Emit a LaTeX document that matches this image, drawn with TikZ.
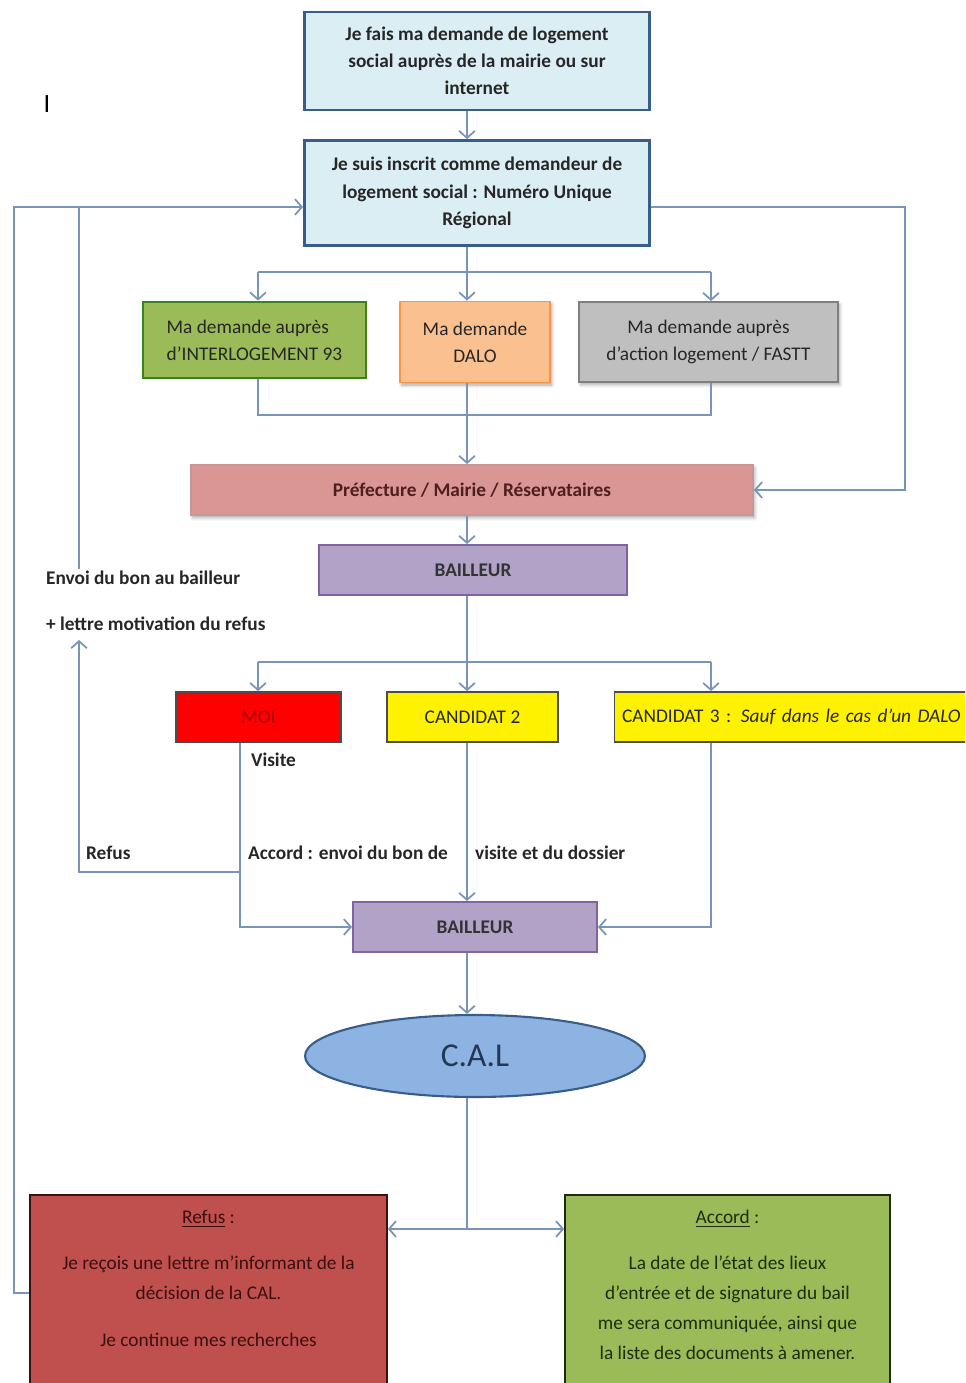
\documentclass[tikz,border=0pt]{standalone}
\usepackage{fontspec}
\setmainfont{Carlito}
\usepackage{tikz}
\usetikzlibrary{calc,positioning,shapes.geometric,arrows.meta,shadows.blur}
\definecolor{boxblue}{RGB}{219,238,244}
\definecolor{navyline}{RGB}{56,93,138}
\definecolor{linkblue}{RGB}{120,148,185}
\definecolor{textdark}{RGB}{38,38,38}
\definecolor{olivefill}{RGB}{155,187,89}
\definecolor{greenline}{RGB}{58,130,30}
\definecolor{orangefill}{RGB}{250,192,144}
\definecolor{orangeline}{RGB}{247,150,70}
\definecolor{grayfill}{RGB}{191,191,191}
\definecolor{grayline}{RGB}{127,127,127}
\definecolor{pinkfill}{RGB}{217,150,148}
\definecolor{pinkline}{RGB}{200,150,150}
\definecolor{pinktext}{RGB}{80,30,30}
\definecolor{purplefill}{RGB}{179,162,199}
\definecolor{purpleline}{RGB}{128,100,162}
\definecolor{moired}{RGB}{255,0,0}
\definecolor{moitext}{RGB}{170,0,0}
\definecolor{calfill}{RGB}{141,179,226}
\definecolor{refusfill}{RGB}{192,80,77}
\definecolor{refustext}{RGB}{60,15,15}
\definecolor{accordtext}{RGB}{30,45,15}
\tikzset{
    flow box/.style={
        draw,align=center,
        font=\fontsize{11}{15.5}\selectfont,text=textdark
    },
    request box/.style={
        flow box,fill=boxblue,draw=navyline,line width=1.6pt,
        minimum width=6.9cm,minimum height=1.96cm,
        font=\fontsize{11}{15.5}\selectfont\bfseries
    },
    channel box/.style={
        flow box,line width=1.1pt,minimum height=1.6cm,
        blur shadow={shadow xshift=1pt,shadow yshift=-1.5pt,shadow blur steps=4,shadow opacity=35}
    },
    office box/.style={
        flow box,line width=1.1pt,minimum height=1cm,
        font=\fontsize{11}{15.5}\selectfont\bfseries,
        blur shadow={shadow xshift=1pt,shadow yshift=-1.5pt,shadow blur steps=4,shadow opacity=35}
    },
    candidate box/.style={
        flow box,line width=1pt,minimum height=1cm,draw=black!70
    },
    verdict box/.style={
        draw,line width=1pt,minimum height=4cm
    },
    verdict text/.style={
        align=center,font=\fontsize{11}{17}\selectfont
    },
    side label/.style={
        anchor=west,inner sep=1pt,text=textdark,
        font=\fontsize{11}{13}\selectfont\bfseries
    },
    link/.style={draw=linkblue,line width=1pt},
    >={Straight Barb[length=4pt,width=9pt]}
}
\begin{document}
\begin{tikzpicture}[x=0.02cm,y=-0.02cm]
\clip (0,0) rectangle (965,1383);
\coordinate (spine) at (467,0);
\coordinate (fork_l) at (258,272);
\coordinate (fork_r) at (711,272);
\coordinate (join_y) at (0,415);
\coordinate (loop_r) at (905,207);
\coordinate (loop_l) at (14,207);
\coordinate (back) at (79,207);
\coordinate (pick_l) at (258,662);
\coordinate (pick_r) at (711,662);
\coordinate (moi_x) at (240,0);
\coordinate (refus_y) at (0,872);
\coordinate (verdict) at (467,1229);

\node[text=black,font=\fontsize{15}{15}\selectfont] (cursor) at (47,104) {I};

% demande et inscription
\node[request box] (demande) at (477,61) {Je fais ma demande de logement\\social auprès de la mairie ou sur\\internet};
\node[request box,minimum height=2.1cm] (inscrit) at (477,193) {Je suis inscrit comme demandeur de\\logement social : Numéro Unique\\Régional};

% les trois demandes
\node[channel box,fill=olivefill,draw=greenline,line width=1.6pt,minimum width=4.46cm,minimum height=1.52cm,align=left,blur shadow={shadow opacity=0}] (interlog) at (254.5,340) {Ma demande auprès\\d’INTERLOGEMENT 93};
\node[channel box,fill=orangefill,draw=orangeline,minimum width=3cm,minimum height=1.62cm] (dalo) at (475,342) {Ma demande\\DALO};
\node[channel box,fill=grayfill,draw=grayline,minimum width=5.18cm] (fastt) at (708.5,342) {Ma demande auprès\\d’action logement / FASTT};

\node[office box,fill=pinkfill,draw=pinkline,text=pinktext,minimum width=11.24cm] (pref) at (472,490) {Préfecture / Mairie / Réservataires};
\node[office box,fill=purplefill,draw=purpleline,text=black!80,minimum width=6.16cm,blur shadow={shadow opacity=0}] (bailleur_a) at (473,570) {BAILLEUR};

% candidats
\node[candidate box,fill=moired,text=moitext,minimum width=3.3cm] (moi) at (258.5,717) {MOI};
\node[candidate box,fill=yellow,minimum width=3.42cm] (cand_2) at (472.5,717) {CANDIDAT 2};
\node[candidate box,fill=yellow,minimum width=7.1cm,text width=6.8cm,align=left] (cand_3) at (792,717) {CANDIDAT 3 : \textit{Sauf dans le cas d’un DALO}};

\node[office box,fill=purplefill,draw=purpleline,text=black!80,minimum width=4.88cm,blur shadow={shadow opacity=0}] (bailleur_b) at (475,927) {BAILLEUR};
\node[ellipse,draw=navyline,line width=1.2pt,fill=calfill,minimum width=6.8cm,minimum height=1.64cm,text=navyline!60!black,font=\fontsize{19}{19}\selectfont] (cal) at (475,1056) {C.A.L};

% decisions
\node[verdict box,fill=refusfill,draw=refustext,minimum width=7.14cm] (refus) at (208.5,1295) {};
\node[verdict text,text=refustext,below=0.2cm of refus.north] (refus_txt) {\underline{Refus} :\\[9pt]Je reçois une lettre m’informant de la\\décision de la CAL.\\[10pt]Je continue mes recherches};
\node[verdict box,fill=olivefill,draw=accordtext,minimum width=6.5cm] (accord) at (727.5,1295) {};
\node[verdict text,text=accordtext,below=0.2cm of accord.north] (accord_txt) {\underline{Accord} :\\[9pt]La date de l’état des lieux\\d’entrée et de signature du bail\\me sera communiquée, ainsi que\\la liste des documents à amener.};

% textes libres
\node[side label] (envoi) at (44,578) {Envoi du bon au bailleur};
\node[side label] (motiv) at (44,624) {+ lettre motivation du refus};
\node[side label] (visite) at (249,760) {Visite};
\node[side label] (refus_lbl) at (84,853) {Refus};
\node[side label] (accord_lbl) at (246,853) {Accord : envoi du bon de};
\node[side label] (visite_lbl) at (473,853) {visite et du dossier};

% liaisons
\draw[link,->] (demande.south -| spine) -- (inscrit.north -| spine);
\draw[link,->] (inscrit.south -| spine) -- (dalo.north -| spine);
\draw[link] (fork_l) -- (fork_r);
\draw[link,->] (fork_l) -- (interlog.north -| fork_l);
\draw[link,->] (fork_r) -- (fastt.north -| fork_r);
\draw[link] (interlog.south -| fork_l) -- (fork_l |- join_y) -- (fork_r |- join_y) -- (fastt.south -| fork_r);
\draw[link,->] (dalo.south -| spine) -- (pref.north -| spine);
\draw[link,->] (inscrit.east |- loop_r) -- (loop_r) |- (pref.east);
\draw[link,->] (refus.west |- 0,1293) -| (loop_l) -- (inscrit.west |- loop_l);
\draw[link] (envoi.north -| back) -- (back);
\draw[link,->] (pref.south -| spine) -- (bailleur_a.north -| spine);
\draw[link,->] (bailleur_a.south -| spine) -- (cand_2.north -| spine);
\draw[link] (pick_l) -- (pick_r);
\draw[link,->] (pick_l) -- (moi.north -| pick_l);
\draw[link,->] (pick_r) -- (cand_3.north -| pick_r);
\draw[link,->] (moi.south -| moi_x) |- (bailleur_b.west);
\draw[link,->] (moi_x |- refus_y) -| ([yshift=-4pt]motiv.south -| back);
\draw[link,->] (cand_2.south -| spine) -- (bailleur_b.north -| spine);
\draw[link,->] (cand_3.south -| pick_r) |- (bailleur_b.east);
\draw[link,->] (bailleur_b.south -| spine) -- (cal.north -| spine);
\draw[link,->] (cal.south -| spine) -- (verdict) -- (verdict -| refus.east);
\draw[link,->] (verdict) -- (verdict -| accord.west);
\end{tikzpicture}
\end{document}
